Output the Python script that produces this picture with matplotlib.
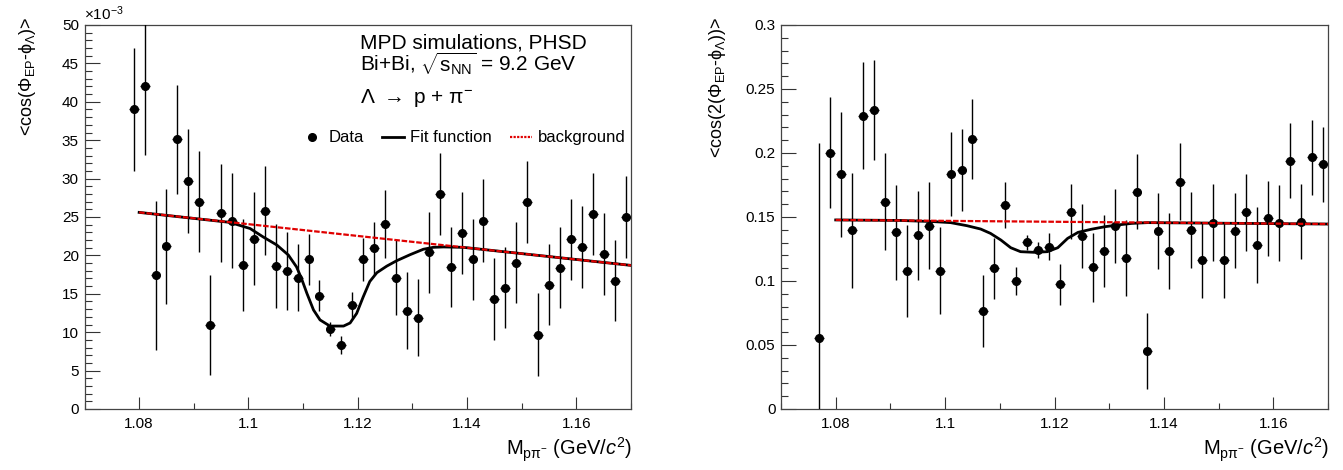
import numpy as np
import matplotlib
matplotlib.use("Agg")
import matplotlib.pyplot as plt
from matplotlib.lines import Line2D
from matplotlib.ticker import MultipleLocator, FormatStrFormatter

plt.rcParams['font.family'] = ['Liberation Sans', 'DejaVu Sans']
plt.rcParams['mathtext.fontset'] = 'custom'
plt.rcParams['mathtext.rm'] = 'Liberation Sans'
plt.rcParams['mathtext.it'] = 'Liberation Sans:italic'
plt.rcParams['mathtext.bf'] = 'Liberation Sans:bold'
plt.rcParams['mathtext.sf'] = 'Liberation Sans'
plt.rcParams['mathtext.default'] = 'regular'

# invariant mass bin centres (GeV/c^2)
mass_v2 = [1.077, 1.079, 1.081, 1.083, 1.085, 1.087, 1.089, 1.091, 1.093, 1.095,
           1.097, 1.099, 1.101, 1.103, 1.105, 1.107, 1.109, 1.111, 1.113, 1.115,
           1.117, 1.119, 1.121, 1.123, 1.125, 1.127, 1.129, 1.131, 1.133, 1.135,
           1.137, 1.139, 1.141, 1.143, 1.145, 1.147, 1.149, 1.151, 1.153, 1.155,
           1.157, 1.159, 1.161, 1.163, 1.165, 1.167, 1.169]
mass_v1 = mass_v2[1:]

# <cos(Phi_EP - phi_Lambda)> in units of 1e-3
v1 = [39.0, 42.1, 17.4, 21.2, 35.1, 29.7, 27.0, 10.9, 25.5, 24.5,
      18.75, 22.2, 25.8, 18.6, 18.0, 17.1, 19.5, 14.75, 10.4, 8.3,
      13.5, 19.5, 20.9, 24.1, 17.1, 12.8, 11.9, 20.4, 28.0, 18.5,
      22.9, 19.5, 24.5, 14.3, 15.8, 19.05, 26.95, 9.7, 16.2, 18.4,
      22.1, 21.1, 25.4, 20.2, 16.7, 25.0]
v1_err = [8.0, 9.0, 9.7, 7.5, 7.1, 6.8, 6.6, 6.5, 6.4, 6.2,
          6.0, 6.0, 5.8, 5.5, 5.1, 4.4, 3.3, 2.0, 0.9, 1.2,
          1.7, 2.8, 3.4, 4.4, 4.9, 5.0, 5.0, 5.3, 5.3, 5.2,
          5.3, 5.3, 5.4, 5.3, 5.3, 5.3, 5.3, 5.35, 5.3, 5.3,
          5.3, 5.3, 5.3, 5.35, 5.25, 5.3]

# <cos(2(Phi_EP - phi_Lambda))>
v2 = [0.0557, 0.2003, 0.1834, 0.1396, 0.2292, 0.2336, 0.162, 0.138, 0.108, 0.1357,
      0.143, 0.108, 0.1834, 0.1865, 0.211, 0.0763, 0.1099, 0.1591, 0.100, 0.1302,
      0.1242, 0.1268, 0.0974, 0.1541, 0.1352, 0.1107, 0.1234, 0.143, 0.1182, 0.1698,
      0.0453, 0.1393, 0.1234, 0.1776, 0.1398, 0.1164, 0.1456, 0.1164, 0.1393, 0.1536,
      0.1281, 0.149, 0.1456, 0.194, 0.1464, 0.1966, 0.1911]
v2_err = [0.152, 0.0435, 0.049, 0.045, 0.042, 0.039, 0.038, 0.037, 0.036, 0.035,
          0.034, 0.034, 0.033, 0.032, 0.031, 0.028, 0.024, 0.018, 0.011, 0.006,
          0.006, 0.0105, 0.016, 0.0216, 0.025, 0.027, 0.028, 0.029, 0.0297, 0.0294,
          0.0295, 0.0297, 0.03, 0.03, 0.0296, 0.0297, 0.03, 0.03, 0.0295, 0.03,
          0.0297, 0.0295, 0.0297, 0.0293, 0.0294, 0.0294, 0.0293]

# fit curves
fit1_x = [1.080, 1.0966, 1.1003, 1.1027, 1.1052, 1.1073, 1.1088, 1.1097, 1.1107, 1.1119,
          1.1131, 1.1149, 1.1174, 1.1186, 1.1198, 1.1210, 1.1222, 1.1235, 1.1253, 1.1271,
          1.1296, 1.1320, 1.1338, 1.1357, 1.1393, 1.170]
fit1_y = [25.6, 24.3, 23.5, 22.4, 21.35, 20.05, 18.5, 17.0, 15.05, 12.9,
          11.6, 10.8, 10.8, 11.2, 12.45, 14.6, 16.6, 17.75, 18.6, 19.3,
          20.1, 20.8, 21.05, 21.1, 21.05, 18.7]
bg1_x = [1.08, 1.17]
bg1_y = [25.6, 18.7]

fit2_x = [1.080, 1.0918, 1.0979, 1.1010, 1.1040, 1.1065, 1.1083, 1.1102, 1.1120, 1.1138,
          1.1163, 1.1187, 1.1206, 1.1224, 1.1243, 1.1267, 1.1292, 1.1316, 1.1341, 1.1370,
          1.170]
fit2_y = [0.1477, 0.1473, 0.1464, 0.1456, 0.1432, 0.1406, 0.1372, 0.132, 0.126, 0.1229,
          0.1224, 0.1229, 0.126, 0.1333, 0.138, 0.1404, 0.1424, 0.1438, 0.1450, 0.1456,
          0.1445]
bg2_x = [1.08, 1.17]
bg2_y = [0.1477, 0.1445]

W, H = 1343, 470
fig = plt.figure(figsize=(W / 100, H / 100), dpi=100)
ax1 = fig.add_axes([84.5 / W, 61 / H, 546.5 / W, 384 / H])
ax2 = fig.add_axes([781 / W, 61 / H, 547 / W, 384 / H])

red = '#e00000'
for ax, x, y, e, fx, fy, bx, by in [(ax1, mass_v1, v1, v1_err, fit1_x, fit1_y, bg1_x, bg1_y),
                                    (ax2, mass_v2, v2, v2_err, fit2_x, fit2_y, bg2_x, bg2_y)]:
    ax.errorbar(x, y, yerr=e, xerr=0.0009, fmt='o', color='black', ms=5.5,
                elinewidth=1.0, capsize=0, zorder=3)
    ax.plot(fx, fy, color='black', lw=2.0, zorder=4)
    ax.plot(bx, by, color=red, lw=1.6, ls=(0, (2.5, 0.8)), zorder=5)
    ax.set_xlim(1.07, 1.17)
    ax.xaxis.set_major_locator(MultipleLocator(0.02))
    ax.xaxis.set_minor_locator(MultipleLocator(0.01))
    ax.xaxis.set_major_formatter(FormatStrFormatter('%g'))
    ax.tick_params(axis='both', which='both', direction='in', top=False, right=False,
                   labelsize=11, width=0.8, color='#333333')
    ax.tick_params(axis='x', which='major', length=9, pad=6)
    ax.tick_params(axis='x', which='minor', length=4.5)
    ax.tick_params(axis='y', which='major', length=11, pad=4)
    ax.tick_params(axis='y', which='minor', length=5)
    for s in ax.spines.values():
        s.set_color('#444444')
        s.set_linewidth(0.9)
    ax.text(1.003, -0.068, r'M$_{p\pi^{-}}$ (GeV/$\mathit{c}^{2}$)', transform=ax.transAxes,
            ha='right', va='top', fontsize=14.5)

ax1.set_ylim(0, 50)
ax1.yaxis.set_major_locator(MultipleLocator(5))
ax1.yaxis.set_minor_locator(MultipleLocator(1))
ax1.yaxis.set_major_formatter(FormatStrFormatter('%g'))
ax1.text(0.0, 1.005, r'$\times$10$^{-3}$', transform=ax1.transAxes, ha='left', va='bottom', fontsize=11)
ax1.text(-0.105, 1.02, r'<cos($\Phi_{EP}$-$\phi_{\Lambda}$)>', transform=ax1.transAxes,
         rotation=90, ha='center', va='top', fontsize=13)

ax2.set_ylim(0, 0.3)
ax2.yaxis.set_major_locator(MultipleLocator(0.05))
ax2.yaxis.set_minor_locator(MultipleLocator(0.01))
ax2.yaxis.set_major_formatter(FormatStrFormatter('%g'))
ax2.text(-0.117, 1.02, r'<cos(2($\Phi_{EP}$-$\phi_{\Lambda}$))>', transform=ax2.transAxes,
         rotation=90, ha='center', va='top', fontsize=13)

# annotations
ax1.text(0.504, 0.94, 'MPD simulations, PHSD', transform=ax1.transAxes, fontsize=15, va='baseline')
ax1.text(0.504, 0.88, r'Bi+Bi, $\sqrt{s_{NN}}$ = 9.2 GeV', transform=ax1.transAxes, fontsize=15, va='baseline')
ax1.text(0.504, 0.797, r'$\Lambda$ $\rightarrow$ p + $\pi^{-}$', transform=ax1.transAxes, fontsize=15, va='baseline')

handles = [Line2D([], [], marker='o', color='black', ls='none', ms=5.5),
           Line2D([], [], color='black', lw=2.0),
           Line2D([], [], color=red, lw=1.6, ls=(0, (1, 0.6)))]
ax1.legend(handles, ['Data', 'Fit function', 'background'], loc='center left',
           bbox_to_anchor=(0.381, 0.706), ncol=3, frameon=False, fontsize=12,
           handlelength=1.3, handletextpad=0.36, columnspacing=1.1, borderpad=0)

fig.savefig('out.png', dpi=100)
